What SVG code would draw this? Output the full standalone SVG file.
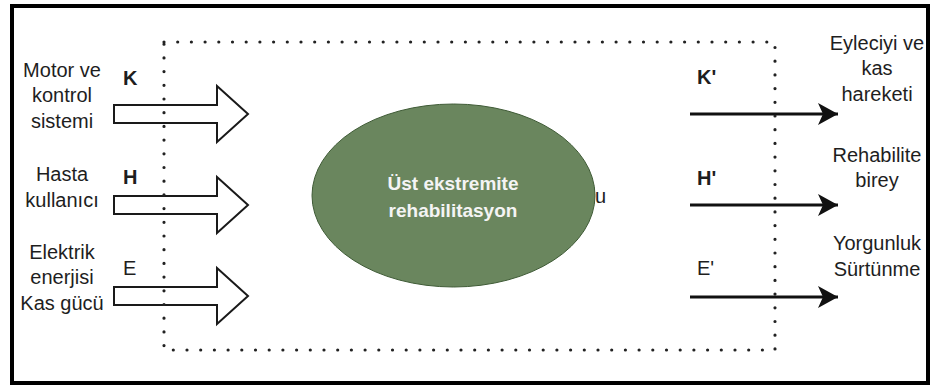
<svg xmlns="http://www.w3.org/2000/svg" width="934" height="389" viewBox="0 0 934 389">
<style>
.lbl{font-family:"Liberation Sans",Arial,sans-serif;font-size:20px;fill:#1e1e1e;text-anchor:middle}
.sym{font-family:"Liberation Sans",Arial,sans-serif;font-size:20px;fill:#1e1e1e}
.b{font-weight:bold}
.block{fill:#ffffff;stroke:#1a1a1a;stroke-width:2;stroke-linejoin:miter}
.out{stroke:#111;stroke-width:3;fill:none}
.dots{fill:none;stroke:#222;stroke-width:3.2;stroke-linecap:round;stroke-dasharray:0 13.7}
.etxt{font-family:"Liberation Sans",Arial,sans-serif;font-size:19px;font-weight:bold;fill:#f4f4f4;text-anchor:middle}
</style>
<defs>
<marker id="ah" markerUnits="userSpaceOnUse" markerWidth="24" markerHeight="26" refX="20" refY="12" orient="auto">
<path d="M20,12 L0,1 L5,12 L0,23 Z" fill="#111"/>
</marker>
</defs>
<rect x="0" y="0" width="934" height="389" fill="#ffffff"/>
<rect x="12" y="6" width="916" height="377" fill="none" stroke="#000" stroke-width="4"/>

<g id="connectors">
<path id="arrK" class="block" d="M114,105 H217 V86 L248,114 L217,142 V123 H114 Z"/>
<path id="arrH" class="block" d="M114,196 H217 V177 L248,205 L217,233 V214 H114 Z"/>
<path id="arrE" class="block" d="M114,287 H217 V268 L248,296 L217,324 V305 H114 Z"/>
<line class="out" x1="690" y1="114" x2="838" y2="114" marker-end="url(#ah)"/>
<line class="out" x1="690" y1="205" x2="838" y2="205" marker-end="url(#ah)"/>
<line class="out" x1="690" y1="297" x2="838" y2="297" marker-end="url(#ah)"/>
</g>

<g id="system-boundary">
<rect class="dots" x="164" y="42" width="611" height="308"/>
</g>

<g id="node-rehab">
<ellipse cx="453.5" cy="195.5" rx="141.5" ry="91.5" fill="#6a865e" stroke="#3f5b36" stroke-width="1"/>
<text class="etxt" x="453" y="190">Üst ekstremite</text>
<text class="etxt" x="453" y="217">rehabilitasyon</text>
</g>
<g id="label-u"><text class="sym" x="595" y="203">u</text></g>

<g id="in-K">
<text class="lbl" x="62" y="77">Motor ve</text>
<text class="lbl" x="62" y="102">kontrol</text>
<text class="lbl" x="62" y="128">sistemi</text>
<text class="sym b" x="123" y="85">K</text>
</g>
<g id="in-H">
<text class="lbl" x="62" y="181">Hasta</text>
<text class="lbl" x="62" y="207">kullanıcı</text>
<text class="sym b" x="123" y="184">H</text>
</g>
<g id="in-E">
<text class="lbl" x="62" y="259">Elektrik</text>
<text class="lbl" x="62" y="284">enerjisi</text>
<text class="lbl" x="62" y="310">Kas gücü</text>
<text class="sym" x="123" y="275">E</text>
</g>

<g id="out-K">
<text class="sym b" x="697" y="84">K'</text>
<text class="lbl" x="877" y="50">Eyleciyi ve</text>
<text class="lbl" x="877" y="75">kas</text>
<text class="lbl" x="877" y="101">hareketi</text>
</g>
<g id="out-H">
<text class="sym b" x="697" y="185">H'</text>
<text class="lbl" x="877" y="162">Rehabilite</text>
<text class="lbl" x="877" y="187">birey</text>
</g>
<g id="out-E">
<text class="sym" x="697" y="275">E'</text>
<text class="lbl" x="877" y="250">Yorgunluk</text>
<text class="lbl" x="877" y="276">Sürtünme</text>
</g>
</svg>
